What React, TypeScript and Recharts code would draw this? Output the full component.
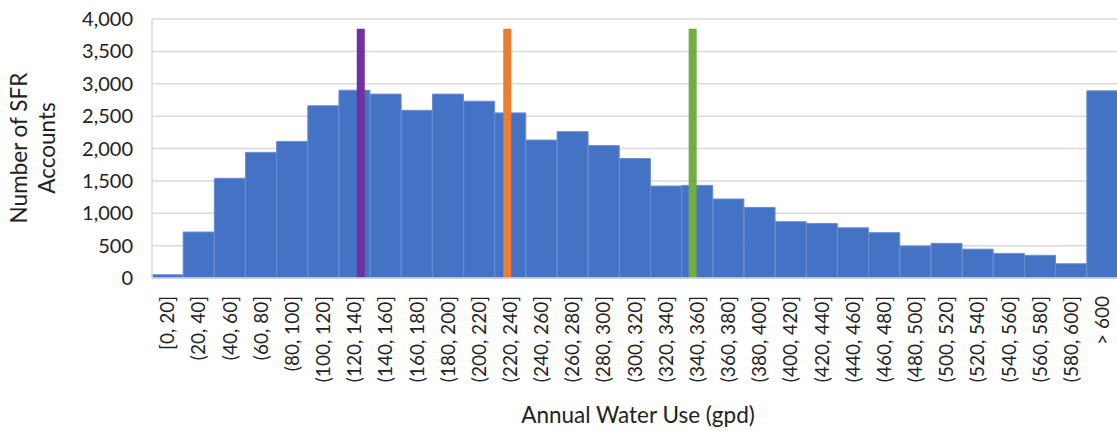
import React from 'react';
import { ComposedChart, Bar, Line, XAxis, YAxis, CartesianGrid } from 'recharts';

const binLabels = [
  '[0, 20]', '(20, 40]', '(40, 60]', '(60, 80]', '(80, 100]', '(100, 120]', '(120, 140]',
  '(140, 160]', '(160, 180]', '(180, 200]', '(200, 220]', '(220, 240]', '(240, 260]',
  '(260, 280]', '(280, 300]', '(300, 320]', '(320, 340]', '(340, 360]', '(360, 380]',
  '(380, 400]', '(400, 420]', '(420, 440]', '(440, 460]', '(460, 480]', '(480, 500]',
  '(500, 520]', '(520, 540]', '(540, 560]', '(560, 580]', '(580, 600]', '> 600',
];

const accountCounts = [
  50, 710, 1540, 1940, 2110, 2660, 2900, 2840, 2590, 2840, 2730, 2550, 2130, 2260, 2045,
  1845, 1420, 1430, 1220, 1090, 870, 840, 775, 700, 495, 535, 445, 380, 350, 220, 2890,
];

const yTicks = [0, 500, 1000, 1500, 2000, 2500, 3000, 3500, 4000];

// vertical marker lines (gpd positions) and their colours
const markerUse = [134, 228, 347];
const markerColors = ['#7030A0', '#ED7D31', '#70AD47'];
const markerTop = 3850;
const binWidthGpd = 20;

const data = binLabels.map((label, i) => ({ label, count: accountCounts[i] }));
const markerData = markerUse.map((u) => [
  { gpd: u, level: 0 },
  { gpd: u, level: markerTop },
]);

const FONT = 'Lato';
const TEXT = '#222222';

const fmt = (v: number) => String(v).replace(/\B(?=(\d{3})+(?!\d))/g, ',');

const XTick = (props: any) => {
  const { x, y, payload } = props;
  return (
    <text
      x={x}
      y={y}
      transform={`rotate(-90, ${x}, ${y})`}
      textAnchor="end"
      dy="0.35em"
      fontSize={19}
      fontFamily={FONT}
      fill={TEXT}
    >
      {payload.value}
    </text>
  );
};

const YTitle = () => (
  <text
    transform="translate(26.7,148) rotate(-90)"
    textAnchor="middle"
    fontSize={22.5}
    fontFamily={FONT}
    fill={TEXT}
  >
    <tspan x={0} dy={0}>Number of SFR</tspan>
    <tspan x={0} dy={28}>Accounts</tspan>
  </text>
);

const XTitle = () => (
  <text x={638} y={423} textAnchor="middle" fontSize={22.5} fontFamily={FONT} fill={TEXT}>
    Annual Water Use (gpd)
  </text>
);

export default function App() {
  return (
    <div style={{ position: 'absolute', left: 0, top: 0, width: 1117, height: 431, overflow: 'hidden', background: '#fff' }}>
      <ComposedChart
        width={1120}
        height={431}
        data={data}
        margin={{ top: 19, right: 2, bottom: 0, left: 0 }}
        barCategoryGap={0}
        barGap={0}
      >
        <CartesianGrid vertical={false} stroke="#d9d9d9" strokeWidth={1.5} />
        <XAxis
          dataKey="label"
          xAxisId="cat"
          interval={0}
          height={153}
          tickLine={false}
          tickSize={0}
          tickMargin={18}
          axisLine={{ stroke: '#d9d9d9', strokeWidth: 1.5 }}
          tick={<XTick />}
          label={{ content: () => <XTitle /> }}
        />
        <XAxis
          xAxisId="num"
          dataKey="gpd"
          type="number"
          domain={[0, binLabels.length * binWidthGpd]}
          allowDataOverflow
          hide
        />
        <YAxis
          width={152}
          domain={[0, 4000]}
          ticks={yTicks}
          tickLine={false}
          tickSize={0}
          tickMargin={19}
          axisLine={{ stroke: '#d9d9d9', strokeWidth: 1.5 }}
          tickFormatter={fmt}
          tick={{ fontSize: 20, fontFamily: FONT, fill: TEXT }}
          label={{ content: () => <YTitle /> }}
        />
        <Bar
          xAxisId="cat"
          dataKey="count"
          fill="#4472C4"
          stroke="#6a8dd0"
          strokeWidth={1}
          isAnimationActive={false}
        />
        {markerData.map((d, i) => (
          <Line
            key={i}
            xAxisId="num"
            data={d}
            dataKey="level"
            stroke={markerColors[i]}
            strokeWidth={8}
            strokeLinecap="butt"
            dot={false}
            activeDot={false}
            legendType="none"
            isAnimationActive={false}
          />
        ))}
      </ComposedChart>
    </div>
  );
}
